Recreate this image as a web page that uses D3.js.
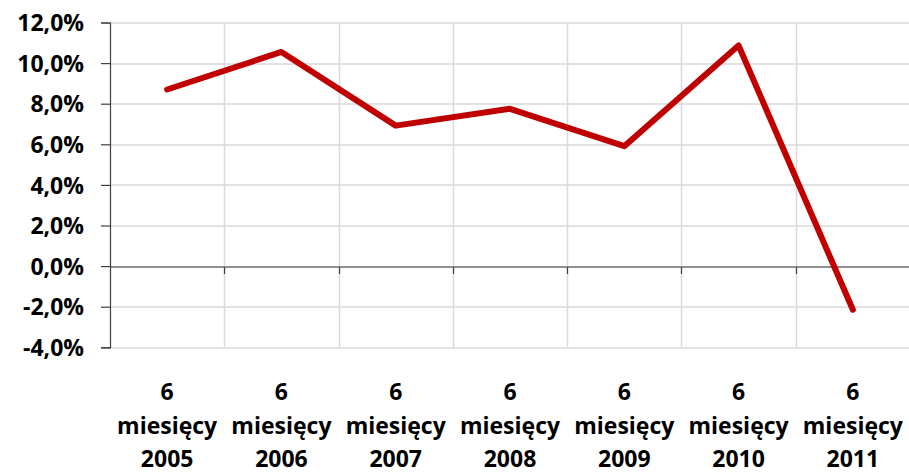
<!DOCTYPE html>
<html>
<head>
<meta charset="utf-8">
<script src="https://cdn.jsdelivr.net/npm/d3@7"></script>
<style>
  body { margin: 0; background: #fff; }
  text { font-family: "Open Sans", sans-serif; font-weight: bold; fill: #000; }
</style>
</head>
<body>
<div id="chart"></div>
<script>
var categories = ["2005", "2006", "2007", "2008", "2009", "2010", "2011"];
var labelTop = "6";
var labelMid = "miesięcy";
var values = [8.7, 10.55, 6.92, 7.75, 5.91, 10.87, -2.15];
var yTicks = [-4, -2, 0, 2, 4, 6, 8, 10, 12];

var W = 909, H = 472;
var margin = { top: 22.5, right: -1, bottom: 124.7, left: 110 };
var width = W - margin.left - margin.right;
var height = H - margin.top - margin.bottom;

var svg = d3.select("#chart").append("svg")
  .attr("width", W)
  .attr("height", H);

var g = svg.append("g")
  .attr("transform", "translate(" + margin.left + "," + margin.top + ")");

var x = d3.scaleBand().domain(categories).range([0, width]);
var y = d3.scaleLinear().domain([-4, 12]).range([height, 0]);

// horizontal gridlines
g.selectAll(".hgrid")
  .data(yTicks)
  .enter()
  .append("line")
  .attr("x1", 0)
  .attr("x2", width)
  .attr("y1", function (d) { return Math.round(y(d)) + 0.5; })
  .attr("y2", function (d) { return Math.round(y(d)) + 0.5; })
  .attr("stroke", "#d9d9d9")
  .attr("stroke-width", 1.5);

// vertical gridlines at category boundaries
g.selectAll(".vgrid")
  .data(categories.slice(1))
  .enter()
  .append("line")
  .attr("x1", function (d) { return Math.round(x(d)) + 0.5; })
  .attr("x2", function (d) { return Math.round(x(d)) + 0.5; })
  .attr("y1", 0)
  .attr("y2", height)
  .attr("stroke", "#d9d9d9")
  .attr("stroke-width", 1.5);

// y axis
var yAxis = d3.axisLeft(y)
  .tickValues(yTicks)
  .tickSize(9)
  .tickPadding(17)
  .tickFormat(function (d) { return d3.format(".1f")(d).replace(".", ",").replace("\u2212", "-") + "%"; });

var ya = g.append("g").call(yAxis);
ya.select(".domain").attr("stroke", "#404040").attr("stroke-width", 1.2);
ya.selectAll(".tick line").attr("stroke", "#404040").attr("stroke-width", 1.2);
ya.selectAll("text")
  .style("font-size", "23px")
  .attr("dy", "0.36em")
  .attr("fill", "#000");

// zero line with category ticks
var zy = Math.round(y(0)) + 0.5;
g.append("line")
  .attr("x1", 0)
  .attr("x2", width)
  .attr("y1", zy)
  .attr("y2", zy)
  .attr("stroke", "#404040")
  .attr("stroke-width", 1.2);

g.selectAll(".ztick")
  .data(categories.slice(1))
  .enter()
  .append("line")
  .attr("x1", function (d) { return Math.round(x(d)) + 0.5; })
  .attr("x2", function (d) { return Math.round(x(d)) + 0.5; })
  .attr("y1", zy)
  .attr("y2", zy + 7)
  .attr("stroke", "#404040")
  .attr("stroke-width", 1.2);

// category labels (three lines each)
var lab = g.selectAll(".cat")
  .data(categories)
  .enter()
  .append("text")
  .attr("text-anchor", "middle")
  .style("font-size", "23px")
  .attr("transform", function (d) {
    return "translate(" + (x(d) + x.bandwidth() / 2) + "," + (height + 53) + ")";
  });
lab.append("tspan").attr("x", 0).attr("y", 0).text(labelTop);
lab.append("tspan").attr("x", 0).attr("y", 34).text(labelMid);
lab.append("tspan").attr("x", 0).attr("y", 67).text(function (d) { return d; });

// line
var line = d3.line()
  .x(function (d, i) { return x(categories[i]) + x.bandwidth() / 2; })
  .y(function (d) { return y(d); });

g.append("path")
  .datum(values)
  .attr("d", line)
  .attr("fill", "none")
  .attr("stroke", "#c00000")
  .attr("stroke-width", 6)
  .attr("stroke-linejoin", "round")
  .attr("stroke-linecap", "round");
</script>
</body>
</html>
